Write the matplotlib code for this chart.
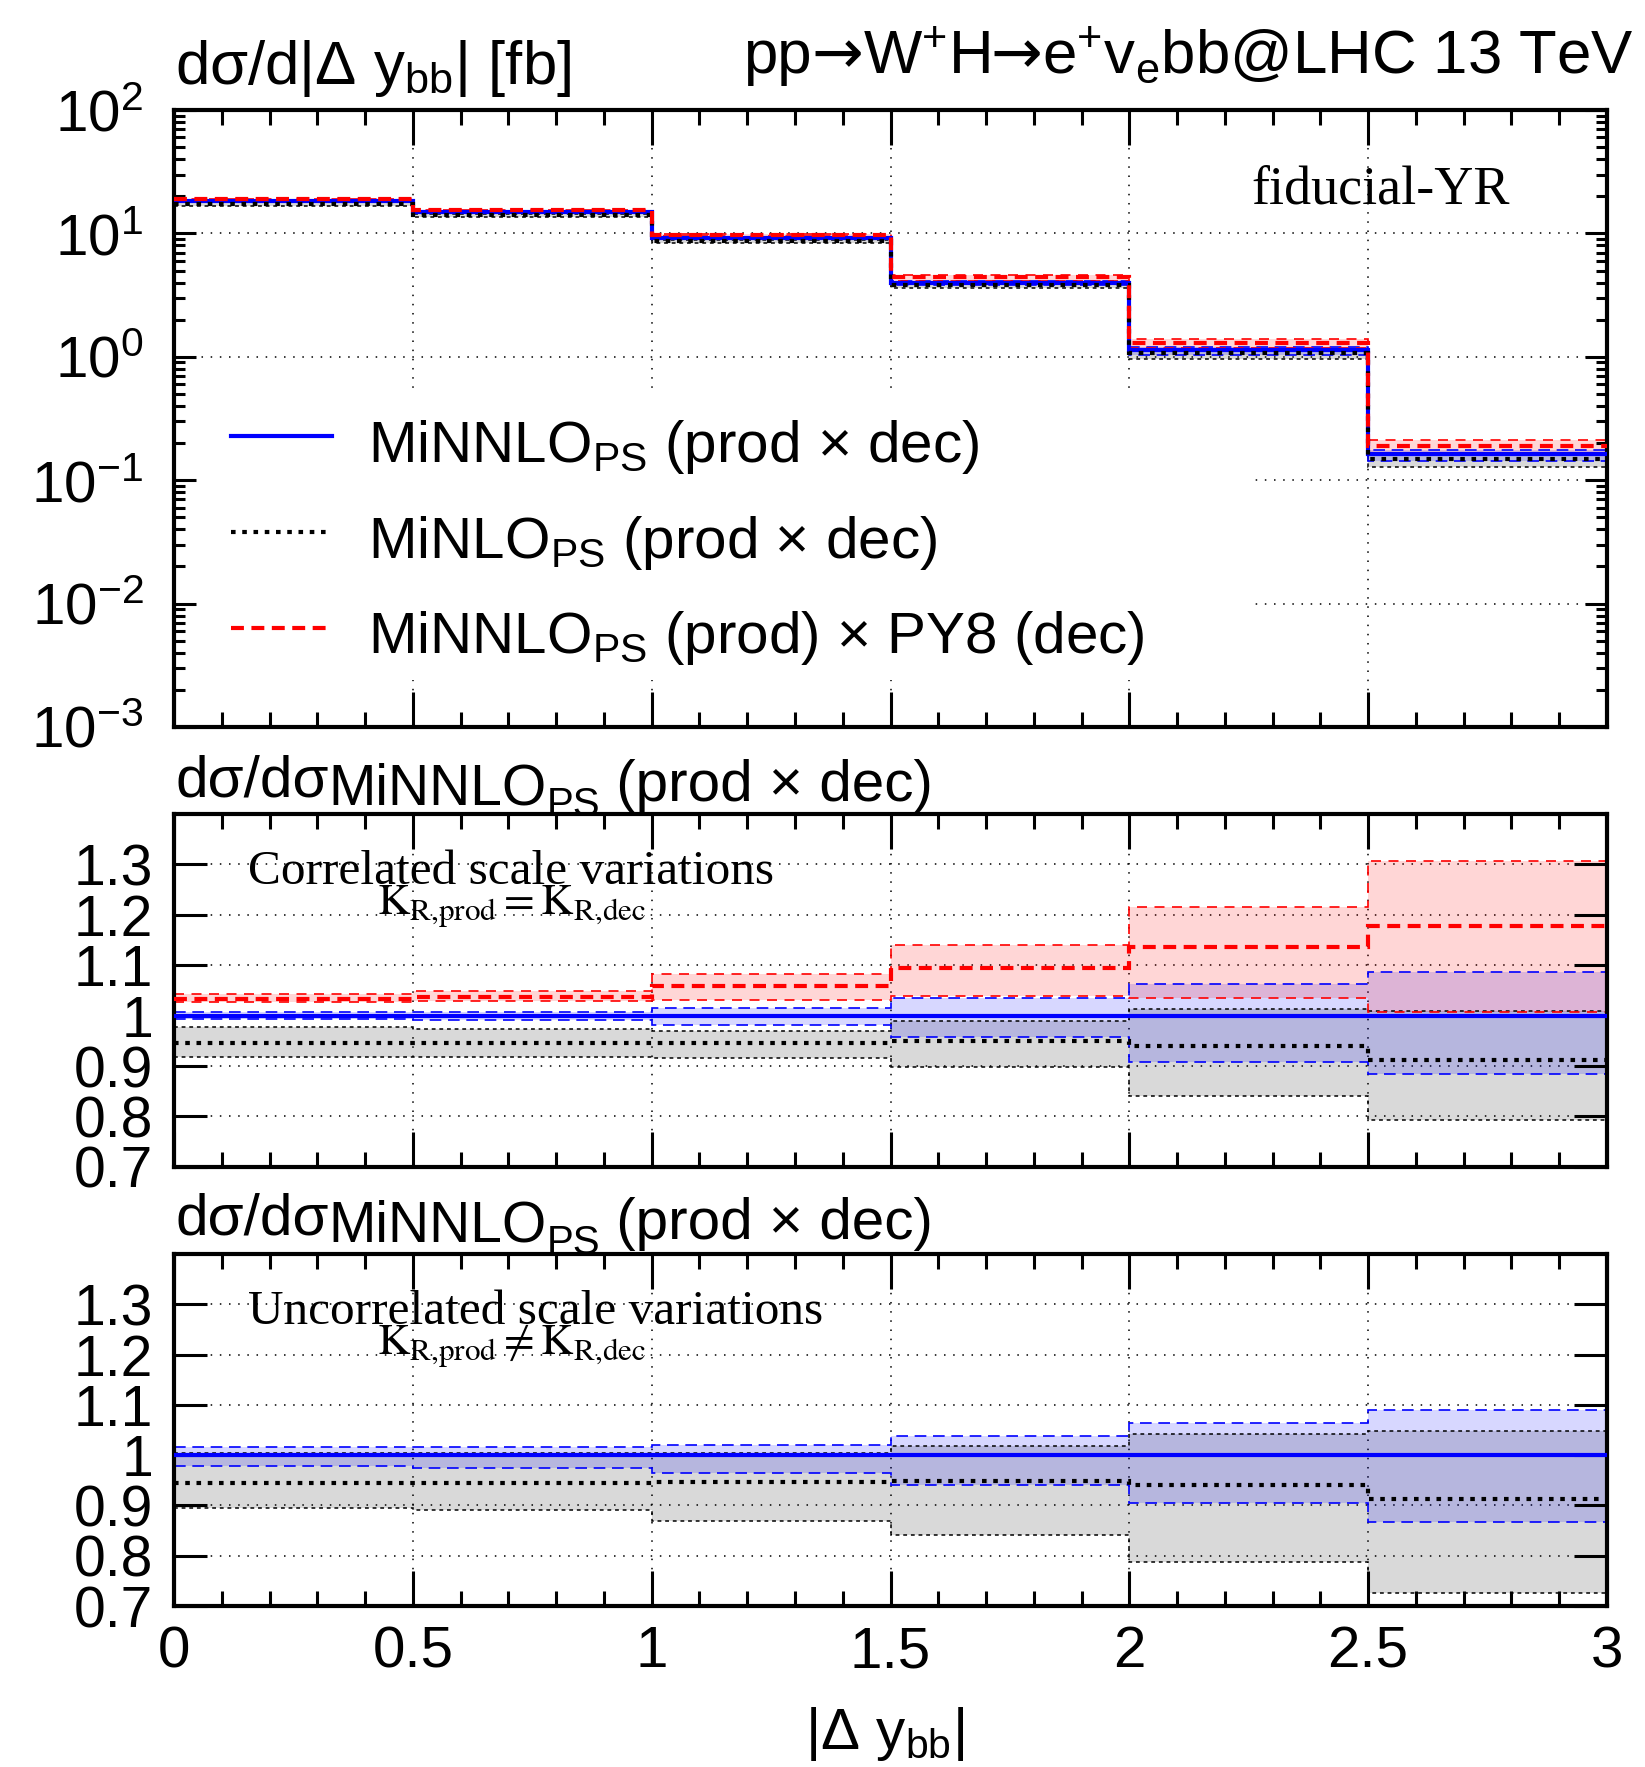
"""W+H -> e+ v bb, |Delta y_bb| distribution with two ratio panels."""

import matplotlib
matplotlib.use("Agg")
import matplotlib.pyplot as plt
import numpy as np
from matplotlib.patches import Rectangle
from matplotlib.ticker import (FixedLocator, FuncFormatter, LogFormatterMathtext,
                               LogLocator, MultipleLocator, NullLocator)

# --- data --------------------------------------------------------------
edges = [0.0, 0.5, 1.0, 1.5, 2.0, 2.5, 3.0]

# main panel, dsigma/d|dy_bb| in fb
xs_minnlo = [18.3, 14.9, 9.2, 4.0, 1.14, 0.162]
xs_minlo = [17.3, 14.1, 8.7, 3.8, 1.07, 0.148]
xs_py8 = [18.9, 15.5, 9.7, 4.4, 1.30, 0.190]

# ratio panel 1: correlated scale variations
ref_ratio = [1.0, 1.0, 1.0, 1.0, 1.0, 1.0]
corr_py8 = [1.032, 1.037, 1.058, 1.094, 1.136, 1.177]
corr_py8_hi = [1.043, 1.049, 1.083, 1.141, 1.216, 1.307]
corr_py8_lo = [1.027, 1.028, 1.031, 1.039, 1.035, 1.007]
corr_minnlo_hi = [1.007, 1.008, 1.015, 1.034, 1.062, 1.087]
corr_minnlo_lo = [0.993, 0.991, 0.981, 0.957, 0.909, 0.885]
corr_minlo = [0.945, 0.945, 0.945, 0.949, 0.940, 0.912]
corr_minlo_hi = [0.977, 0.973, 0.970, 0.990, 1.013, 1.010]
corr_minlo_lo = [0.917, 0.917, 0.916, 0.899, 0.841, 0.794]

# ratio panel 2: uncorrelated scale variations
unc_minnlo_hi = [1.016, 1.016, 1.021, 1.039, 1.064, 1.090]
unc_minnlo_lo = [0.978, 0.974, 0.965, 0.940, 0.904, 0.868]
unc_minlo = [0.945, 0.945, 0.947, 0.949, 0.940, 0.913]
unc_minlo_hi = [1.005, 1.005, 1.005, 1.018, 1.043, 1.049]
unc_minlo_lo = [0.894, 0.890, 0.870, 0.841, 0.787, 0.726]

ratio_ticks = [0.7, 0.8, 0.9, 1.0, 1.1, 1.2, 1.3]

legend_labels = [
    r"MiNNLO$_{\mathrm{PS}}$ (prod × dec)",
    r"MiNLO$_{\mathrm{PS}}$ (prod × dec)",
    r"MiNNLO$_{\mathrm{PS}}$ (prod) × PY8 (dec)",
]

# --- style -------------------------------------------------------------
plt.rcParams.update({
    "font.family": ["Liberation Sans", "DejaVu Sans"],
    "mathtext.fontset": "custom",
    "mathtext.rm": "Liberation Sans",
    "mathtext.it": "Liberation Sans",
    "mathtext.bf": "Liberation Sans:bold",
    "axes.unicode_minus": False,
    "font.size": 42,
})

W_PX, H_PX = 1645, 1767
BLUE, RED, BLACK = "#0000ff", "#ff0000", "#000000"
central_style = {
    "minnlo": dict(color=BLUE, linewidth=3.0, linestyle="-"),
    "minlo": dict(color=BLACK, linewidth=3.0, linestyle=(0, (1.1, 1.6))),
    "py8": dict(color=RED, linewidth=3.0, linestyle=(0, (3.1, 1.8))),
}
edge_style = {
    "minnlo": dict(color=BLUE, linewidth=1.2, linestyle=(0, (7, 4))),
    "minlo": dict(color=BLACK, linewidth=1.1, linestyle=(0, (2.5, 2.5))),
    "py8": dict(color=RED, linewidth=1.2, linestyle=(0, (6, 4.5))),
}
band_fill = {"minnlo": (BLUE, 0.155), "minlo": (BLACK, 0.15), "py8": (RED, 0.16)}


def band(ax, lo, hi, key):
    col, alpha = band_fill[key]
    ax.stairs(hi, edges, baseline=lo, fill=True, facecolor=col, alpha=alpha,
              linewidth=0, zorder=1.5)
    ax.stairs(hi, edges, baseline=None, zorder=1.8, **edge_style[key])
    ax.stairs(lo, edges, baseline=None, zorder=1.8, **edge_style[key])


def central(ax, vals, key):
    ax.stairs(vals, edges, baseline=None, zorder=3, **central_style[key])


def dotted_grid(ax, xs, ys):
    for x in xs:
        ax.axvline(x, color="black", linewidth=1.1, linestyle=(0, (1, 5)), zorder=0.5)
    for y in ys:
        ax.axhline(y, color="black", linewidth=1.1, linestyle=(0, (1, 5)), zorder=0.5)


def chain_text(fig, x_px, y_px, pieces, align="left"):
    """Write text pieces one after another; y_px is the baseline from the top.

    pieces: (text, fontsize, baseline shift in px, font family or None)
    """
    renderer = fig.canvas.get_renderer()
    texts, widths = [], []
    for s, size, dy, fam in pieces:
        kw = {"family": fam} if fam else {}
        t = fig.text(0, 1 - (y_px + dy) / H_PX, s, fontsize=size,
                     ha="left", va="baseline", **kw)
        texts.append(t)
        widths.append(t.get_window_extent(renderer).width)
    if align == "right":
        x_px -= sum(widths)
    for t, w in zip(texts, widths):
        t.set_x(x_px / W_PX)
        x_px += w


fig = plt.figure(figsize=(W_PX / 100, H_PX / 100), dpi=100)
ax_top = fig.add_axes([0.1058, 0.5886, 0.8711, 0.3491])
ax_mid = fig.add_axes([0.1058, 0.3396, 0.8711, 0.1998])
ax_bot = fig.add_axes([0.1058, 0.0911, 0.8711, 0.1992])

for ax in (ax_top, ax_mid, ax_bot):
    ax.set_xlim(0, 3)
    ax.xaxis.set_major_locator(MultipleLocator(0.5))
    ax.xaxis.set_minor_locator(MultipleLocator(0.1))
    ax.xaxis.set_major_formatter(FuncFormatter(lambda v, _: f"{v:g}"))
    ax.tick_params(which="both", direction="in", top=True, right=True, width=2.2)
    ax.tick_params(axis="x", which="major", length=25, pad=14)
    ax.tick_params(axis="x", which="minor", length=11)
    for s in ax.spines.values():
        s.set_linewidth(3)

# --- main panel --------------------------------------------------------
ax_top.set_yscale("log")
ax_top.set_ylim(1e-3, 1e2)
ax_top.yaxis.set_major_locator(LogLocator(base=10, numticks=10))
ax_top.yaxis.set_minor_locator(LogLocator(base=10, subs=np.arange(2, 10), numticks=20))
ax_top.yaxis.set_major_formatter(LogFormatterMathtext())
ax_top.tick_params(axis="y", which="major", length=16, pad=22, labelsize=42)
ax_top.tick_params(axis="y", which="minor", length=8)
ax_top.tick_params(labelbottom=False)
dotted_grid(ax_top, [0.5, 1.0, 1.5, 2.0, 2.5], [1e-2, 1e-1, 1e0, 1e1])

xs_minnlo_a = np.array(xs_minnlo)
band(ax_top, xs_minnlo_a * np.array(corr_minlo_lo), xs_minnlo_a * np.array(corr_minlo_hi), "minlo")
band(ax_top, xs_minnlo_a * np.array(corr_minnlo_lo), xs_minnlo_a * np.array(corr_minnlo_hi), "minnlo")
band(ax_top, xs_minnlo_a * np.array(corr_py8_lo), xs_minnlo_a * np.array(corr_py8_hi), "py8")
central(ax_top, xs_minnlo, "minnlo")
central(ax_top, xs_minlo, "minlo")
central(ax_top, xs_py8, "py8")

# white legend box hides the grid behind the entries
ax_top.add_patch(Rectangle((0.016, 0.076), 0.735, 0.47, transform=ax_top.transAxes,
                           facecolor="white", edgecolor="none", zorder=1))
handle_y = [0.4716, 0.316, 0.160]
text_y = [0.4295, 0.274, 0.120]
for key, hy, ty, lab in zip(["minnlo", "minlo", "py8"], handle_y, text_y, legend_labels):
    ax_top.plot([0.0398, 0.1103], [hy, hy], transform=ax_top.transAxes, zorder=4,
                **central_style[key])
    ax_top.text(0.1354, ty, lab, transform=ax_top.transAxes, fontsize=42,
                va="baseline", ha="left", zorder=4)

fig.text(0.1064, 0.9522, r"dσ/d|Δ y$_{\mathrm{bb}}$| [fb]", fontsize=44.5,
         ha="left", va="baseline")
title_pieces = [("pp", 44.5, 0, None), ("→", 44.5, 0, "DejaVu Sans"),
                (r"W$^{+}$H", 44.5, 0, None), ("→", 44.5, 0, "DejaVu Sans"),
                (r"e$^{+}$v$_{\mathrm{e}}$bb@LHC 13 TeV", 44.5, 0, None)]
chain_text(fig, 1634, 73, title_pieces, align="right")
fig.text(0.7605, 0.8851, "fiducial-YR", fontsize=39, family="Liberation Serif",
         ha="left", va="baseline")

# --- ratio panels ------------------------------------------------------
for ax in (ax_mid, ax_bot):
    ax.set_ylim(0.7, 1.4)
    ax.yaxis.set_major_locator(FixedLocator(ratio_ticks))
    ax.yaxis.set_minor_locator(NullLocator())
    ax.yaxis.set_major_formatter(FuncFormatter(lambda v, _: f"{v:g}"))
    ax.tick_params(axis="y", which="major", length=24, pad=15, labelsize=41)
    dotted_grid(ax, [0.5, 1.0, 1.5, 2.0, 2.5], [0.8, 0.9, 1.0, 1.1, 1.2, 1.3])
ax_mid.tick_params(labelbottom=False)
ax_bot.tick_params(axis="x", labelsize=42)

band(ax_mid, corr_minlo_lo, corr_minlo_hi, "minlo")
band(ax_mid, corr_minnlo_lo, corr_minnlo_hi, "minnlo")
band(ax_mid, corr_py8_lo, corr_py8_hi, "py8")
central(ax_mid, ref_ratio, "minnlo")
central(ax_mid, corr_minlo, "minlo")
central(ax_mid, corr_py8, "py8")

band(ax_bot, unc_minlo_lo, unc_minlo_hi, "minlo")
band(ax_bot, unc_minnlo_lo, unc_minnlo_hi, "minnlo")
central(ax_bot, ref_ratio, "minnlo")
central(ax_bot, unc_minlo, "minlo")

# ratio-panel labels: big subscript, drawn piece by piece
ratio_pieces = [("dσ/dσ", 42, 0, None), ("MiNNLO", 41, 8, None),
                ("PS", 29, 20, None), (" (prod × dec)", 42, 5, None)]
chain_text(fig, 175, 796, ratio_pieces)
chain_text(fig, 175, 1234, ratio_pieces)

for ax, title, rel in ((ax_mid, "Correlated scale variations", "="),
                       (ax_bot, "Uncorrelated scale variations", r"\neq")):
    ax.text(0.0516, 0.802, title, transform=ax.transAxes, fontsize=35.5,
            family="Liberation Serif", ha="left", va="baseline", zorder=4)
    ax.text(0.1417, 0.714,
            r"$\mathrm{K}_{\mathrm{R{,}prod}} " + rel + r" \mathrm{K}_{\mathrm{R{,}dec}}$",
            transform=ax.transAxes, fontsize=32, math_fontfamily="stix",
            ha="left", va="baseline", zorder=4)

fig.text(0.5376, 0.0102, r"|Δ y$_{\mathrm{bb}}$|", fontsize=42, ha="center",
         va="baseline")

fig.savefig("out.png", dpi=100)
